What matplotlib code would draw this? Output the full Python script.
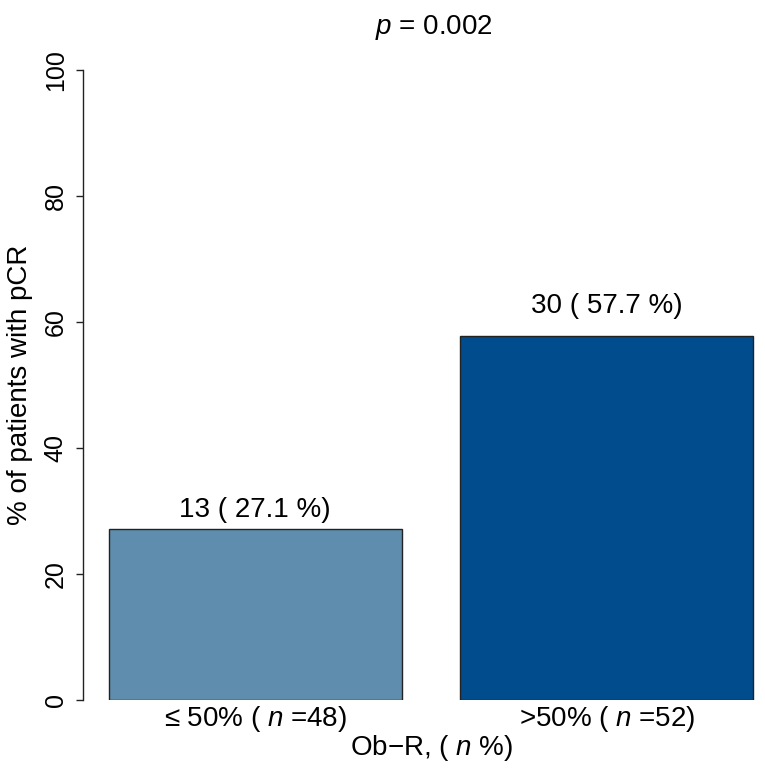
import matplotlib
matplotlib.use("Agg")
import matplotlib.pyplot as plt

plt.rcParams['font.family'] = ['Liberation Sans', 'DejaVu Sans']
plt.rcParams['mathtext.fontset'] = 'custom'
plt.rcParams['mathtext.rm'] = 'Liberation Sans'
plt.rcParams['mathtext.it'] = 'Liberation Sans:italic'

categories = [r'≤ 50% ( $\mathit{n}$ =48)', r'>50% ( $\mathit{n}$ =52)']
counts = [13, 30]
percents = [27.1, 57.7]
colors = ['#5E8DAE', '#004C8C']
yticks = [0, 20, 40, 60, 80, 100]
label_offsets_pt = [9, 17]

W, H = 765, 769
fig = plt.figure(figsize=(W / 100, H / 100), dpi=100)
# plot region in pixels
left_px, right_px = 83, 779
bottom_px, top_px = 700, 70
ax = fig.add_axes([left_px / W, 1 - bottom_px / H,
                   (right_px - left_px) / W, (bottom_px - top_px) / H])

x = [0.7, 1.9]
ax.bar(x, percents, width=1.0, color=colors, edgecolor='#222222', linewidth=1.0)
ax.set_xlim(0.112, 2.488)
ax.set_ylim(0, 100)

for xi, c, p, off in zip(x, counts, percents, label_offsets_pt):
    ax.annotate(f'{c} ( {p} %)', xy=(xi, p), xytext=(0, off), textcoords='offset points',
                ha='center', va='baseline', fontsize=20)

for s in ['top', 'right', 'bottom']:
    ax.spines[s].set_visible(False)
ax.spines['left'].set_linewidth(1.0)
ax.spines['left'].set_color('#222222')
ax.set_yticks(yticks)
ax.set_yticklabels([str(t) for t in yticks], rotation=90, va='center', fontsize=18)
ax.tick_params(axis='y', length=5, width=1.0, pad=6, color='#222222')
ax.set_xticks(x)
ax.set_xticklabels(categories, fontsize=20)
ax.tick_params(axis='x', length=0, pad=3)

fig.text(432 / W, 1 - 748 / H, r'Ob$-$R, ( $\mathit{n}$ %)', ha='center', va='center', fontsize=20)
fig.text(20 / W, 1 - 385 / H, '% of patients with pCR', rotation=90,
         ha='center', va='center', fontsize=20)
fig.text(434 / W, 1 - 27 / H, r'$\mathit{p}$ = 0.002', ha='center', va='center', fontsize=20)

fig.savefig('out.png', dpi=100)
